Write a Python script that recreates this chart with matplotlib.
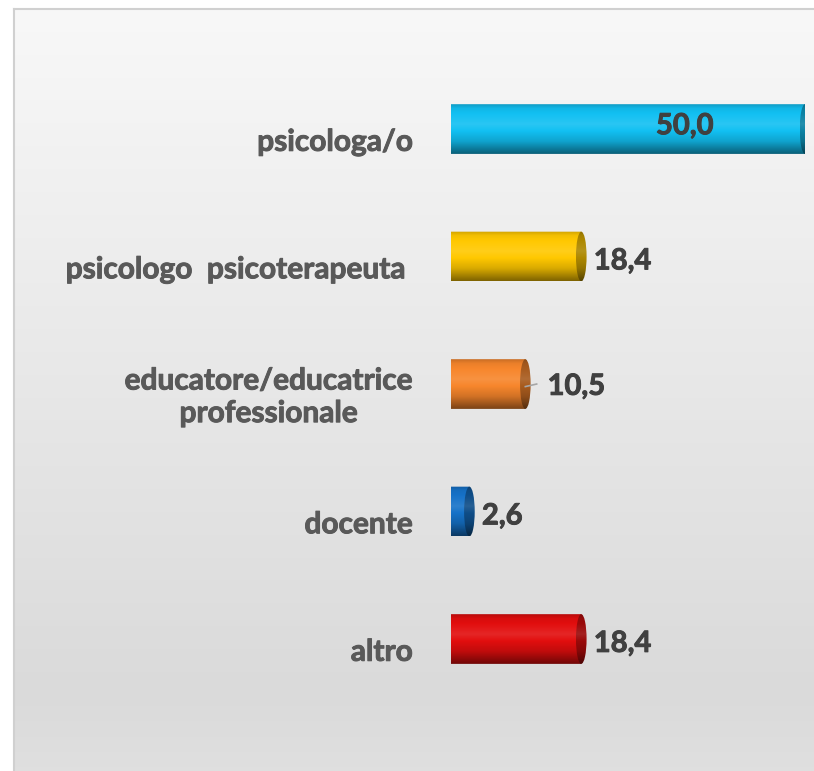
import matplotlib.pyplot as plt
import numpy as np
from matplotlib.patches import Ellipse, PathPatch
from matplotlib.path import Path
from matplotlib.colors import to_rgb
from matplotlib.lines import Line2D
import matplotlib.patheffects as pe

# dati (dal basso verso l'alto)
categorie = ["altro", "docente", "educatore/educatrice\nprofessionale",
             "psicologo  psicoterapeuta ", "psicologa/o"]
valori = [18.4, 2.6, 10.5, 18.4, 50.0]
etichette = ["18,4", "2,6", "10,5", "18,4", "50,0"]
colori = ["#e20e0e", "#1672c8", "#f7862c", "#ffc800", "#12c0f2"]

plt.rcParams['font.family'] = ['Lato', 'DejaVu Sans']


# sfumatura verticale del cilindro
def sfumatura(colore, n=64, scuro=1.0):
    c = np.array(to_rgb(colore)) * scuro
    t = np.linspace(0, 1, n)
    f = np.interp(t, [0, 0.08, 0.4, 0.75, 1], [0.82, 0.95, 1.10, 0.85, 0.5])
    out = np.empty((n, 1, 3))
    for i, fi in enumerate(f):
        if fi <= 1:
            out[i, 0] = c * fi
        else:
            out[i, 0] = c + (1 - c) * (fi - 1)
    return np.clip(out, 0, 1)


fig = plt.figure(figsize=(8.14, 7.71), dpi=100)

# sfondo grigio sfumato
bg = fig.add_axes([14 / 814, 0, 1 - 14 / 814, 1 - 9 / 771])
grad = np.interp(np.linspace(0, 1, 200), [0, 0.9, 1], [0.972, 0.855, 0.875])
bg.imshow(np.repeat(grad[:, None, None], 3, axis=2), aspect='auto',
          extent=(0, 1, 0, 1), origin='upper')
bg.set_xlim(0, 1)
bg.set_ylim(0, 1)
bg.axis('off')
fig.add_artist(Line2D([14 / 814, 14 / 814], [0, 1 - 9 / 771], color='#d0d0d0', lw=1.5))
fig.add_artist(Line2D([14 / 814, 1], [1 - 9 / 771, 1 - 9 / 771], color='#d0d0d0', lw=1.5))

ax = fig.add_axes([451 / 814, 0.0885, 354 / 814, 0.8268])
ax.set_xlim(0, 50)
ax.set_ylim(-0.5, 4.5)
ax.axis('off')
ax.patch.set_alpha(0)

h = 0.39     # altezza barra
ew = 1.5     # larghezza ellisse
linea_guida = [False, False, True, False, False]

for i, (v, col) in enumerate(zip(valori, colori)):
    y0, y1 = i - h / 2, i + h / 2
    ang = np.linspace(np.pi / 2, 3 * np.pi / 2, 30)
    arco = np.column_stack([ew / 2 * np.cos(ang), i + h / 2 * np.sin(ang)])
    verts = np.vstack([[[0, y1], [v, y1], [v, y0], [0, y0]], arco[::-1], [[0, y1]]])
    clip = PathPatch(Path(verts), facecolor='none', edgecolor='none', transform=ax.transData)
    ax.add_patch(clip)
    im = ax.imshow(sfumatura(col), aspect='auto', extent=(-ew / 2, v, y0, y1),
                   origin='upper', zorder=2)
    im.set_clip_path(clip)
    ell = Ellipse((v, i), ew, h, facecolor='none', edgecolor='none')
    ax.add_patch(ell)
    im2 = ax.imshow(sfumatura(col, scuro=0.68), aspect='auto',
                    extent=(v - ew / 2, v + ew / 2, y0, y1), origin='upper', zorder=3)
    im2.set_clip_path(ell)

    stile = dict(ha='left', va='center', fontsize=21, fontweight='bold',
                 color='#404040', textcoords='offset points',
                 path_effects=[pe.withStroke(linewidth=0.7, foreground='#404040')])
    if v >= 40:
        ax.annotate(etichette[i], (v * 0.66, i), xytext=(0, 2), zorder=5,
                    **{**stile, 'ha': 'center'})
    elif linea_guida[i]:
        ax.plot([v, v + 1.6], [i - 0.02, i], color='#a6a6a6', lw=1.2, zorder=4)
        ax.annotate(etichette[i], (v, i), xytext=(16, -2), **stile)
    else:
        ax.annotate(etichette[i], (v, i), xytext=(9, -3.5), **stile)

    ax.annotate(categorie[i], (0, i), xytext=(-27.4, -9.2), textcoords='offset points',
                ha='right', va='center', multialignment='center', fontsize=21.5,
                fontweight='bold', color='#595959', linespacing=1.2,
                path_effects=[pe.withStroke(linewidth=0.7, foreground='#595959')])
    ax.set_xlim(0, 50)
    ax.set_ylim(-0.5, 4.5)

fig.savefig("out.png", dpi=100)
